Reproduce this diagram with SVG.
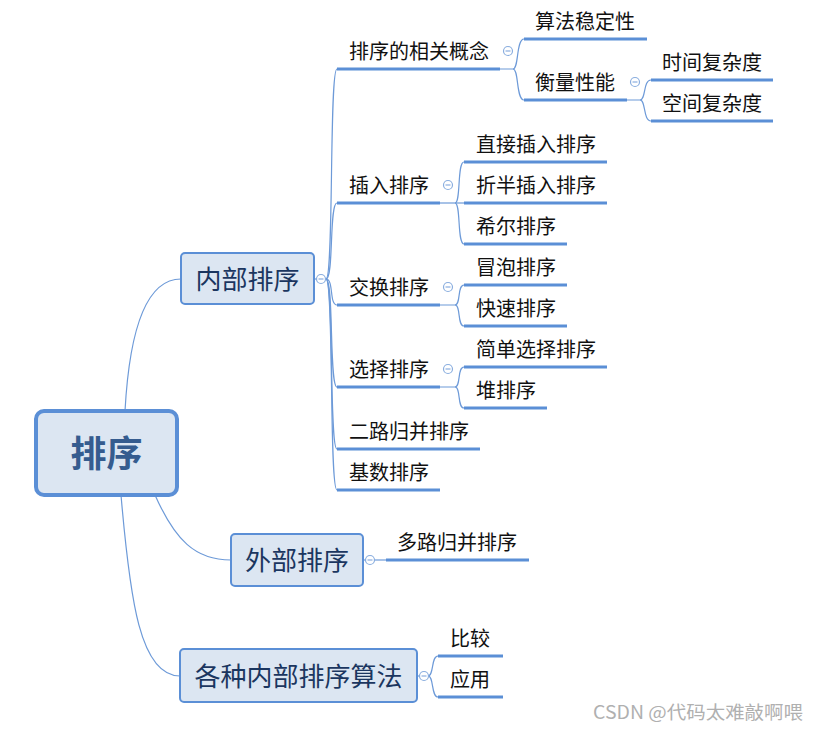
<svg xmlns="http://www.w3.org/2000/svg" width="819" height="730" viewBox="0 0 819 730">
<style>
.bg{fill:#ffffff}
.conn{fill:none;stroke:#6d9ad8;stroke-width:1.2}
.ul{stroke:#5b8fd6;stroke-width:3;stroke-linecap:butt}
.t{font-family:"Noto Sans CJK SC","Microsoft YaHei",sans-serif;font-size:20px;fill:#111111}
.l1box{fill:#dce6f2;stroke:#5b8fd6;stroke-width:2}
.l1t{font-family:"Noto Sans CJK SC","Microsoft YaHei",sans-serif;font-size:26px;fill:#1b3660;text-anchor:middle}
.root{fill:#dce6f2;stroke:#5b8fd6;stroke-width:4}
.rt{font-family:"Noto Sans CJK SC","Microsoft YaHei",sans-serif;font-size:36px;font-weight:bold;fill:#355c8f;text-anchor:middle}
.btn{fill:#ffffff;stroke:#8aaedf;stroke-width:1.2}
.btnl{stroke:#8aaedf;stroke-width:1.2}
.wm{font-family:"Noto Sans CJK SC","Microsoft YaHei",sans-serif;font-size:18px;fill:#b0b0b0}
</style>
<defs>
<g id="b"><circle class="btn" cx="0" cy="0" r="4.5"/><line class="btnl" x1="-2.5" y1="0" x2="2.5" y2="0"/></g>
</defs>
<rect class="bg" x="0" y="0" width="819" height="730"/>
<g id="connectors">
<path class="conn" d="M125,411 C130,320 150,279 181,279"/>
<path class="conn" d="M155,495 C175,540 195,560 231,560"/>
<path class="conn" d="M121,495 C130,600 140,676 180,676"/>
<path class="conn" d="M314,279 L317,279"/>
<path class="conn" d="M326,279 C334,279 329,69 337,69"/>
<path class="conn" d="M326,279 C334,279 329,203 337,203"/>
<path class="conn" d="M326,279 C334,279 329,305 337,305"/>
<path class="conn" d="M326,279 C334,279 329,387 337,387"/>
<path class="conn" d="M326,279 C334,279 329,449 337,449"/>
<path class="conn" d="M326,279 C334,279 329,490 337,490"/>
<path class="conn" d="M500,69 L513,69 C519,69 516,39 524,39"/>
<path class="conn" d="M513,69 C519,69 516,100 524,100"/>
<path class="conn" d="M627,100 L640,100 C646,100 643,80 651,80"/>
<path class="conn" d="M640,100 C646,100 643,121 651,121"/>
<path class="conn" d="M440,203 L464,203"/>
<path class="conn" d="M455,203 C461,203 457,162 464,162"/>
<path class="conn" d="M455,203 C461,203 457,244 464,244"/>
<path class="conn" d="M440,305 L455,305 C461,305 457,285 464,285"/>
<path class="conn" d="M455,305 C461,305 457,326 464,326"/>
<path class="conn" d="M440,387 L455,387 C461,387 457,367 464,367"/>
<path class="conn" d="M455,387 C461,387 457,408 464,408"/>
<path class="conn" d="M363,560 L366,560"/>
<path class="conn" d="M374,560 L386,560"/>
<path class="conn" d="M417,676 L420,676"/>
<path class="conn" d="M428,676 C434,676 431,656 438,656"/>
<path class="conn" d="M428,676 C434,676 431,697 438,697"/>
</g>
<g id="root"><rect class="root" x="36" y="411" width="141" height="84" rx="8"/><text class="rt" x="106.5" y="467">排序</text></g>
<g id="n-neibu"><rect class="l1box" x="181" y="253" width="133" height="51" rx="4"/><text class="l1t" x="247.5" y="289">内部排序</text><use href="#b" x="321" y="279"/></g>
<g id="n-waibu"><rect class="l1box" x="231" y="534" width="132" height="52" rx="4"/><text class="l1t" x="297" y="570">外部排序</text><use href="#b" x="370" y="560"/></g>
<g id="n-gezhong"><rect class="l1box" x="180" y="649" width="237" height="53" rx="4"/><text class="l1t" x="298.5" y="686">各种内部排序算法</text><use href="#b" x="424" y="676"/></g>
<g id="n-gainian"><line class="ul" x1="337" y1="69" x2="500" y2="69"/><text class="t" x="349" y="58.5">排序的相关概念</text><use href="#b" x="508" y="51"/></g>
<g id="n-wending"><line class="ul" x1="524" y1="39" x2="647" y2="39"/><text class="t" x="535" y="28.5">算法稳定性</text></g>
<g id="n-hengliang"><line class="ul" x1="524" y1="100" x2="627" y2="100"/><text class="t" x="535" y="89.5">衡量性能</text><use href="#b" x="635" y="82"/></g>
<g id="n-shijian"><line class="ul" x1="651" y1="80" x2="773" y2="80"/><text class="t" x="662" y="69.5">时间复杂度</text></g>
<g id="n-kongjian"><line class="ul" x1="651" y1="121" x2="773" y2="121"/><text class="t" x="662" y="110.5">空间复杂度</text></g>
<g id="n-charu"><line class="ul" x1="337" y1="203" x2="440" y2="203"/><text class="t" x="349" y="192.5">插入排序</text><use href="#b" x="448" y="185"/></g>
<g id="n-zhijie"><line class="ul" x1="464" y1="162" x2="607" y2="162"/><text class="t" x="476" y="151.5">直接插入排序</text></g>
<g id="n-zheban"><line class="ul" x1="464" y1="203" x2="607" y2="203"/><text class="t" x="476" y="192.5">折半插入排序</text></g>
<g id="n-xier"><line class="ul" x1="464" y1="244" x2="567" y2="244"/><text class="t" x="476" y="233.5">希尔排序</text></g>
<g id="n-jiaohuan"><line class="ul" x1="337" y1="305" x2="440" y2="305"/><text class="t" x="349" y="294.5">交换排序</text><use href="#b" x="448" y="287"/></g>
<g id="n-maopao"><line class="ul" x1="464" y1="285" x2="567" y2="285"/><text class="t" x="476" y="274.5">冒泡排序</text></g>
<g id="n-kuaisu"><line class="ul" x1="464" y1="326" x2="567" y2="326"/><text class="t" x="476" y="315.5">快速排序</text></g>
<g id="n-xuanze"><line class="ul" x1="337" y1="387" x2="440" y2="387"/><text class="t" x="349" y="376.5">选择排序</text><use href="#b" x="448" y="369"/></g>
<g id="n-jiandan"><line class="ul" x1="464" y1="367" x2="607" y2="367"/><text class="t" x="476" y="356.5">简单选择排序</text></g>
<g id="n-dui"><line class="ul" x1="464" y1="408" x2="547" y2="408"/><text class="t" x="476" y="397.5">堆排序</text></g>
<g id="n-erlu"><line class="ul" x1="337" y1="449" x2="480" y2="449"/><text class="t" x="349" y="438.5">二路归并排序</text></g>
<g id="n-jishu"><line class="ul" x1="337" y1="490" x2="440" y2="490"/><text class="t" x="349" y="479.5">基数排序</text></g>
<g id="n-duolu"><line class="ul" x1="386" y1="560" x2="529" y2="560"/><text class="t" x="397" y="549.5">多路归并排序</text></g>
<g id="n-bijiao"><line class="ul" x1="438" y1="656" x2="503" y2="656"/><text class="t" x="450" y="645.5">比较</text></g>
<g id="n-yingyong"><line class="ul" x1="438" y1="697" x2="503" y2="697"/><text class="t" x="450" y="686.5">应用</text></g>
<text class="wm" x="593" y="718.5" textLength="210" lengthAdjust="spacingAndGlyphs">CSDN @代码太难敲啊喂</text>
</svg>
